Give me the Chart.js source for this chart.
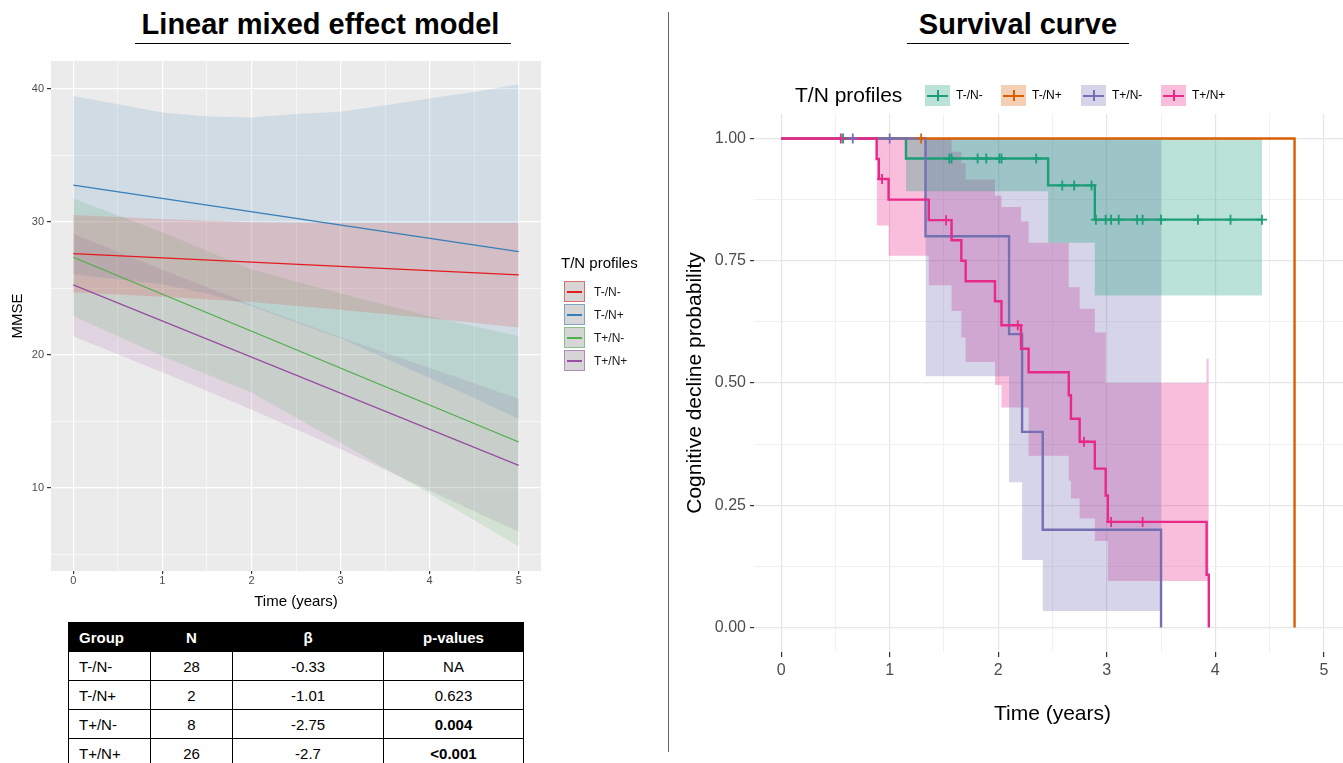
<!DOCTYPE html>
<html>
<head>
<meta charset="utf-8">
<title>Linear mixed effect model / Survival curve</title>
<script src="https://cdn.jsdelivr.net/npm/chart.js@4.4.0/dist/chart.umd.min.js"></script>
<style>
  html, body { margin: 0; padding: 0; background: #fff; width: 1343px; height: 763px; overflow: hidden;
    font-family: "Liberation Sans", Arial, Helvetica, sans-serif; color: #000; }
  .abs { position: absolute; }
  .title { font-weight: bold; font-size: 29px; line-height: 32px; text-align: center; white-space: nowrap; }
  .rule { height: 0; border-top: 1.5px solid #000; }
  #stats { border-collapse: collapse; table-layout: fixed; width: 455px; font-size: 15px; }
  #stats td, #stats th { border: 1px solid #000; padding: 0; height: 28px; text-align: center; }
  #stats th { background: #000; color: #fff; font-weight: bold; }
  #stats .grp { text-align: left; padding-left: 10px; }
  .leg-label { font-size: 12px; white-space: nowrap; }
</style>
</head>
<body>

<div class="abs title" style="left:0; width:641px; top:8px;">Linear mixed effect model</div>
<div class="abs rule" style="left:135px; width:376px; top:43px;"></div>
<div class="abs title" style="left:900px; width:236px; top:8px;">Survival curve</div>
<div class="abs rule" style="left:907px; width:222px; top:43px;"></div>
<div class="abs" style="left:668px; top:12px; width:1px; height:740px; background:#666;"></div>

<div class="abs" style="left:0; top:0;"><canvas id="lmmChart" width="660" height="620" style="width:660px;height:620px;"></canvas></div>
<div class="abs" style="left:662px; top:60px;"><canvas id="kmChart" width="700" height="703" style="width:700px;height:703px;"></canvas></div>

<div id="lmmLegend"></div>
<div id="kmLegend"></div>
<table id="stats" class="abs" style="left:68px; top:622px;">
  <colgroup><col style="width:82px"><col style="width:82px"><col style="width:151px"><col style="width:140px"></colgroup>
  <tbody id="statsBody"></tbody>
</table>

<script>
// ---------- shared ----------
const groups = ['T-/N-', 'T-/N+', 'T+/N-', 'T+/N+'];

// ---------- left: linear mixed effect model (MMSE) ----------
const lmmColors = ['#E41A1C', '#377EB8', '#4DAF4A', '#984EA3'];
const lmmXGrid = [0, 0.5, 1, 1.5, 2, 2.5, 3, 3.5, 4, 4.5, 5];
const lmmYGrid = [5, 10, 15, 20, 25, 30, 35, 40];
const lmmYLabels = [10, 20, 30, 40];

const fitTime = [0, 5];
const tnnFit = [27.6, 26.0];
const tnpFit = [32.75, 27.75];
const tpnFit = [27.33, 13.45];
const tppFit = [25.25, 11.7];

const ribbonTime = [0, 1, 2, 3, 4, 5];
const ribbonTimeHalf = [0, 0.5, 1, 1.5, 2, 2.5, 3, 3.5, 4, 4.5, 5];
const tnnUpper = [30.5, 30.2, 29.95, 29.9, 29.9, 29.9];
const tnnLower = [24.7, 24.36, 23.97, 23.38, 22.74, 22.05];
const tnpUpper = [39.45, 38.83, 38.2, 37.9, 37.83, 38.08, 38.25, 38.75, 39.25, 39.75, 40.33];
const tnpLower = [26.05, 25.67, 25.3, 24.6, 23.67, 22.42, 21.25, 19.75, 18.25, 16.75, 15.17];
const tpnUpper = [31.75, 29.2, 26.4, 24.6, 22.9, 21.4];
const tpnLower = [22.91, 19.9, 17.16, 13.4, 9.56, 5.6];
const tppUpper = [29.1, 26.39, 23.76, 21.32, 19.01, 16.7];
const tppLower = [21.4, 18.69, 15.9, 12.92, 9.81, 6.7];

// table under the left panel
const tableN = [28, 2, 8, 26];
const tableBeta = ['-0.33', '-1.01', '-2.75', '-2.7'];
const tablePValues = ['NA', '0.623', '0.004', '<0.001'];
const tableBold = [false, false, true, true];

// ---------- right: Kaplan-Meier survival curve ----------
const kmColors = ['#1B9E77', '#D95F02', '#7570B3', '#E7298A'];
const kmXGrid = [0, 0.5, 1, 1.5, 2, 2.5, 3, 3.5, 4, 4.5, 5];
const kmYGrid = [0, 0.125, 0.25, 0.375, 0.5, 0.625, 0.75, 0.875, 1];
const kmYLabels = [0, 0.25, 0.5, 0.75, 1];

// T-/N-
const tnnTime = [0, 1.15, 2.46, 2.89, 4.43];
const tnnSurv = [1, 0.959, 0.904, 0.834, 0.834];
const tnnCens = [0.57, 1.55, 1.57, 1.81, 1.89, 2.01, 2.03, 2.35, 2.59, 2.70, 2.86, 2.90, 2.99, 3.04, 3.11, 3.28, 3.33, 3.50, 3.84, 4.14, 4.43];
const tnnBandTime = [1.15, 2.46, 2.89, 4.43];
const tnnBandLow = [0.892, 0.787, 0.679, 0.679];
const tnnBandUp = [1, 1, 1, 1];
// T-/N+
const tnpTime = [0, 4.73];
const tnpSurv = [1, 0];
const tnpCens = [1.29];
// T+/N-
const tpnTime = [0, 1.33, 2.10, 2.22, 2.41, 3.50];
const tpnSurv = [1, 0.8, 0.6, 0.4, 0.2, 0];
const tpnCens = [0.66, 1.0];
const tpnBandTime = [1.33, 2.10, 2.22, 2.41, 3.50];
const tpnBandLow = [0.514, 0.297, 0.138, 0.034, 0.034];
const tpnBandUp = [1, 1, 1, 1, 1];
// T+/N+
const tppTime = [0, 0.88, 0.90, 0.99, 1.36, 1.57, 1.66, 1.70, 1.97, 2.03, 2.21, 2.28, 2.65, 2.67, 2.75, 2.89, 2.99, 3.01, 3.92, 3.94];
const tppSurv = [1, 0.958, 0.917, 0.875, 0.833, 0.792, 0.75, 0.708, 0.667, 0.618, 0.57, 0.522, 0.475, 0.427, 0.38, 0.325, 0.27, 0.216, 0.108, 0];
const tppCens = [0.55, 0.93, 1.52, 2.18, 2.79, 3.04, 3.33];
const tppBandTime = [0.88, 0.99, 1.36, 1.57, 1.66, 1.70, 1.97, 2.03, 2.21, 2.28, 2.65, 2.67, 2.75, 2.89, 2.99, 3.01, 3.92, 3.94];
const tppBandLow = [0.822, 0.76, 0.70, 0.647, 0.593, 0.543, 0.496, 0.45, 0.45, 0.351, 0.30, 0.264, 0.223, 0.177, 0.177, 0.095, 0.095, 0.095];
const tppBandUp = [1, 1, 1, 0.973, 0.949, 0.916, 0.883, 0.86, 0.83, 0.787, 0.696, 0.696, 0.652, 0.603, 0.50, 0.50, 0.55, 0.55];

// ---------- helpers ----------
function pts(xs, ys) {
    return xs.map((x, i) => ({ x: x, y: ys[i] }));
}

function rgba(hex, a) {
    const n = parseInt(hex.slice(1), 16);
    return `rgba(${(n >> 16) & 255}, ${(n >> 8) & 255}, ${n & 255}, ${a})`;
}

function survAt(times, surv, t) {
    let v = surv[0];
    times.forEach((tt, i) => { if (tt <= t) v = surv[i]; });
    return v;
}

// upper + lower pair, upper is filled down to the next dataset
function band(times, up, low, color, alpha, stepped) {
    const base = { borderWidth: 0, pointRadius: 0, pointHoverRadius: 0, pointHitRadius: 0, stepped: stepped, order: 20 };
    return [
        Object.assign({ data: pts(times, up), fill: '+1', backgroundColor: rgba(color, alpha) }, base),
        Object.assign({ data: pts(times, low), fill: false }, base)
    ];
}

const panelBg = {
    id: 'panelBg',
    beforeDraw(chart, args, opts) {
        const { ctx, chartArea: a } = chart;
        ctx.save();
        ctx.fillStyle = opts.color;
        ctx.fillRect(a.left, a.top, a.right - a.left, a.bottom - a.top);
        ctx.restore();
    }
};

Chart.defaults.font.family = '"Liberation Sans", Arial, Helvetica, sans-serif';

// ---------- left chart ----------
const lmmDatasets = [
    ...band(ribbonTime, tnnUpper, tnnLower, lmmColors[0], 0.15, false),
    ...band(ribbonTimeHalf, tnpUpper, tnpLower, lmmColors[1], 0.15, false),
    ...band(ribbonTime, tpnUpper, tpnLower, lmmColors[2], 0.15, false),
    ...band(ribbonTime, tppUpper, tppLower, lmmColors[3], 0.15, false)
];
[tnnFit, tnpFit, tpnFit, tppFit].forEach((fit, i) => {
    lmmDatasets.push({
        label: groups[i], data: pts(fitTime, fit), borderColor: lmmColors[i], borderWidth: 1.3,
        pointRadius: 0, pointHoverRadius: 0, fill: false, order: 4 - i
    });
});

new Chart(document.getElementById('lmmChart'), {
    type: 'line',
    data: { datasets: lmmDatasets },
    options: {
        responsive: false,
        devicePixelRatio: 1,
        animation: false,
        events: [],
        layout: { padding: { left: 0, right: 119, top: 61, bottom: 9 } },
        plugins: {
            legend: { display: false },
            tooltip: { enabled: false },
            panelBg: { color: '#EBEBEB' }
        },
        scales: {
            x: {
                type: 'linear', min: -0.25, max: 5.25,
                afterBuildTicks: ax => { ax.ticks = lmmXGrid.map(v => ({ value: v })); },
                afterFit: ax => { ax.height = 40; },
                border: { display: false },
                grid: {
                    color: '#FFFFFF',
                    lineWidth: c => Number.isInteger(c.tick.value) ? 1.2 : 0.6,
                    tickLength: 3,
                    tickColor: c => Number.isInteger(c.tick.value) ? '#333333' : 'rgba(0,0,0,0)'
                },
                ticks: {
                    autoSkip: false, maxRotation: 0, padding: 0, color: '#4D4D4D', font: { size: 11 },
                    callback: v => Number.isInteger(v) ? String(v) : ''
                },
                title: { display: true, text: 'Time (years)', color: '#000', font: { size: 15 }, padding: { top: 0, bottom: 0 } }
            },
            y: {
                type: 'linear', min: 3.76, max: 42.07,
                afterBuildTicks: ax => { ax.ticks = lmmYGrid.map(v => ({ value: v })); },
                afterFit: ax => { ax.width = 51; },
                border: { display: false },
                grid: {
                    color: '#FFFFFF',
                    lineWidth: c => lmmYLabels.includes(c.tick.value) ? 1.2 : 0.6,
                    tickLength: 4,
                    tickColor: c => lmmYLabels.includes(c.tick.value) ? '#333333' : 'rgba(0,0,0,0)'
                },
                ticks: {
                    autoSkip: false, padding: 3, color: '#4D4D4D', font: { size: 11 },
                    callback: v => lmmYLabels.includes(v) ? String(v) : ''
                },
                title: { display: true, text: 'MMSE', color: '#000', font: { size: 15 }, padding: { top: 9, bottom: 0 } }
            }
        }
    },
    plugins: [panelBg]
});

// ---------- right chart ----------
const kmCurves = [
    { time: tnnTime, surv: tnnSurv, cens: tnnCens },
    { time: tnpTime, surv: tnpSurv, cens: tnpCens },
    { time: tpnTime, surv: tpnSurv, cens: tpnCens },
    { time: tppTime, surv: tppSurv, cens: tppCens }
];
const kmDatasets = [
    ...band(tnnBandTime, tnnBandUp, tnnBandLow, kmColors[0], 0.3, 'before'),
    ...band(tpnBandTime, tpnBandUp, tpnBandLow, kmColors[2], 0.3, 'before'),
    ...band(tppBandTime, tppBandUp, tppBandLow, kmColors[3], 0.3, 'before')
];
kmCurves.forEach((c, i) => {
    kmDatasets.push({
        label: groups[i], data: pts(c.time, c.surv), stepped: 'before', borderColor: kmColors[i],
        borderWidth: 2.4, pointRadius: 0, pointHoverRadius: 0, fill: false, order: 10 - i
    });
    kmDatasets.push({
        data: c.cens.map(t => ({ x: t, y: survAt(c.time, c.surv, t) })), showLine: false,
        pointStyle: 'cross', pointRadius: 5, pointBorderWidth: 1.8, pointBorderColor: kmColors[i],
        borderColor: kmColors[i], fill: false, order: 4 - i
    });
});

new Chart(document.getElementById('kmChart'), {
    type: 'line',
    data: { datasets: kmDatasets },
    options: {
        responsive: false,
        devicePixelRatio: 1,
        animation: false,
        events: [],
        layout: { padding: { left: 0, right: 11, top: 54, bottom: 31 } },
        plugins: { legend: { display: false }, tooltip: { enabled: false } },
        scales: {
            x: {
                type: 'linear', min: -0.25, max: 5.25,
                afterBuildTicks: ax => { ax.ticks = kmXGrid.map(v => ({ value: v })); },
                afterFit: ax => { ax.height = 80; },
                border: { display: false },
                grid: {
                    color: c => Number.isInteger(c.tick.value) ? '#E6E6E6' : '#F0F0F0',
                    lineWidth: c => Number.isInteger(c.tick.value) ? 1.2 : 1,
                    tickLength: 5,
                    tickColor: c => Number.isInteger(c.tick.value) ? '#333333' : 'rgba(0,0,0,0)'
                },
                ticks: {
                    autoSkip: false, maxRotation: 0, padding: 4, color: '#4D4D4D', font: { size: 16 },
                    callback: v => Number.isInteger(v) ? String(v) : ''
                },
                title: { display: true, text: 'Time (years)', color: '#000', font: { size: 21 }, padding: { top: 0, bottom: 5 } }
            },
            y: {
                type: 'linear', min: -0.05, max: 1.05,
                afterBuildTicks: ax => { ax.ticks = kmYGrid.map(v => ({ value: v })); },
                afterFit: ax => { ax.width = 92; },
                border: { display: false },
                grid: {
                    color: c => kmYLabels.includes(c.tick.value) ? '#E6E6E6' : '#F0F0F0',
                    lineWidth: c => kmYLabels.includes(c.tick.value) ? 1.2 : 1,
                    tickLength: 4,
                    tickColor: c => kmYLabels.includes(c.tick.value) ? '#333333' : 'rgba(0,0,0,0)'
                },
                ticks: {
                    autoSkip: false, padding: 4, color: '#4D4D4D', font: { size: 16 },
                    callback: v => kmYLabels.includes(v) ? v.toFixed(2) : ''
                },
                title: { display: true, text: 'Cognitive decline probability', color: '#000', font: { size: 21 }, padding: { top: 21, bottom: 0 } }
            }
        }
    }
});

// ---------- legends ----------
let lmmLegendHtml = '<div class="abs" style="left:561px; top:254px; font-size:15px; line-height:18px;">T/N profiles</div>';
groups.forEach((g, i) => {
    const top = 281 + i * 23;
    lmmLegendHtml +=
        `<div class="abs" style="left:564px; top:${top}px; width:19px; height:19px; background:#D6D6D6; border:1.5px solid ${rgba(lmmColors[i], 0.55)};">` +
        `<div class="abs" style="left:2px; top:9px; width:15px; height:1.5px; background:${lmmColors[i]};"></div></div>` +
        `<div class="abs leg-label" style="left:594px; top:${top + 3}px; line-height:16px; color:#1A1A1A;">${g}</div>`;
});
document.getElementById('lmmLegend').innerHTML = lmmLegendHtml;

const kmKeyLeft = [925, 1001, 1081, 1161];
let kmLegendHtml = '<div class="abs" style="left:795px; top:82px; font-size:21px; line-height:26px;">T/N profiles</div>';
groups.forEach((g, i) => {
    const x = kmKeyLeft[i];
    kmLegendHtml +=
        `<div class="abs" style="left:${x}px; top:85px; width:25px; height:21px; background:${rgba(kmColors[i], 0.3)};">` +
        `<div class="abs" style="left:2px; top:9.5px; width:21px; height:2px; background:${kmColors[i]};"></div>` +
        `<div class="abs" style="left:11.5px; top:5px; width:2px; height:11px; background:${kmColors[i]};"></div></div>` +
        `<div class="abs leg-label" style="left:${x + 31}px; top:87px; line-height:17px;">${g}</div>`;
});
document.getElementById('kmLegend').innerHTML = kmLegendHtml;

// ---------- table ----------
let rows = '<tr><th class="grp">Group</th><th>N</th><th>β</th><th>p-values</th></tr>';
groups.forEach((g, i) => {
    const p = tableBold[i] ? `<b>${tablePValues[i]}</b>` : tablePValues[i];
    rows += `<tr><td class="grp">${g}</td><td>${tableN[i]}</td><td>${tableBeta[i]}</td><td>${p}</td></tr>`;
});
document.getElementById('statsBody').innerHTML = rows;
</script>
</body>
</html>
